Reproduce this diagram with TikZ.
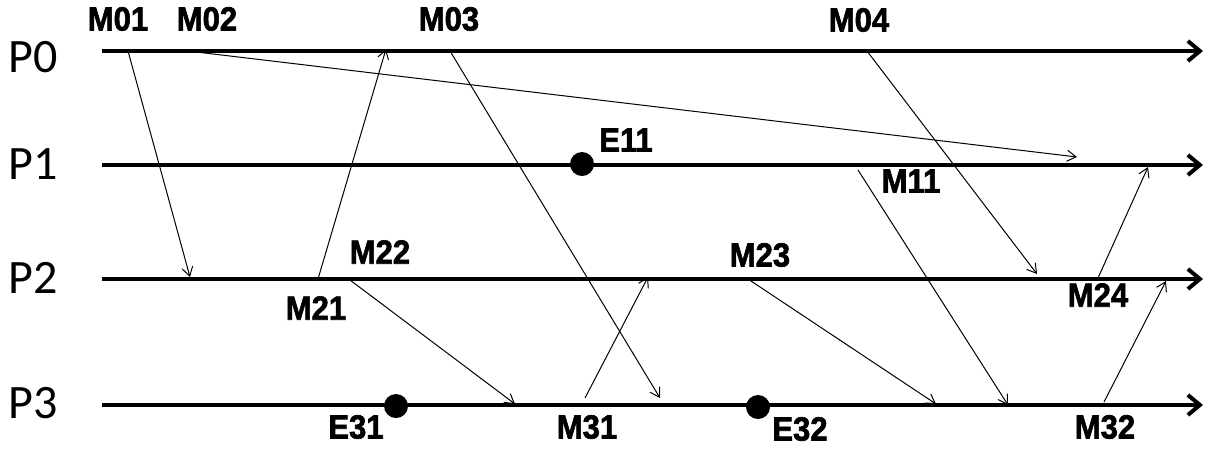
\documentclass[tikz,border=0pt]{standalone}
\usepackage{fontspec}
\setmainfont{Carlito}
\newfontfamily\msgfont{Liberation Sans Bold}[FakeBold=2]
\usetikzlibrary{arrows.meta}

\begin{document}
\begin{tikzpicture}[x=1pt,y=-1pt]
                \tikzset{ProcStyle/.style= {inner sep=0pt, font=\fontsize{48}{48}\selectfont},
                         LabelStyle/.style= {inner sep=0pt, yscale=1.08, font=\msgfont\fontsize{31}{31}\selectfont},
                         LineStyle/.style= {line width=4pt, -{Straight Barb[length=12pt,width=20pt]}},
                         MsgStyle/.style= {line width=1pt, -{Straight Barb[length=9pt,width=11pt]}},
                         EventStyle/.style= {circle, fill=black, inner sep=0pt, minimum size=24pt}}
                \useasboundingbox (0,0) rectangle (1214,448);
                % processes
                \node[ProcStyle] (P0) at (33,57) {P0};
                \node[ProcStyle] (P1) at (33,164) {P1};
                \node[ProcStyle] (P2) at (33,278) {P2};
                \node[ProcStyle] (P3) at (33,403) {P3};
                \coordinate (L0s) at (102,51);  \coordinate (L0e) at (1203,51);
                \coordinate (L1s) at (102,165); \coordinate (L1e) at (1203,165);
                \coordinate (L2s) at (102,279); \coordinate (L2e) at (1203,279);
                \coordinate (L3s) at (102,405); \coordinate (L3e) at (1203,405);
                \draw[LineStyle] (L0s) -- (L0e);
                \draw[LineStyle] (L1s) -- (L1e);
                \draw[LineStyle] (L2s) -- (L2e);
                \draw[LineStyle] (L3s) -- (L3e);
                % events
                \node[EventStyle] (E11) at (582,164) {};
                \node[EventStyle] (E31) at (396,406) {};
                \node[EventStyle] (E32) at (758,407) {};
                % message end points
                \coordinate (M01s) at (128,51);  \coordinate (M01e) at (190,277);
                \coordinate (M02s) at (188,51);  \coordinate (M02e) at (1077,157);
                \coordinate (M03s) at (450,51);  \coordinate (M03e) at (660,398);
                \coordinate (M04s) at (867,51);  \coordinate (M04e) at (1037,274);
                \coordinate (M11s) at (858,170); \coordinate (M11e) at (1008,405);
                \coordinate (M21s) at (318,279); \coordinate (M21e) at (386,49);
                \coordinate (M22s) at (350,280); \coordinate (M22e) at (515,404);
                \coordinate (M23s) at (748,279); \coordinate (M23e) at (936,404);
                \coordinate (M24s) at (1098,278); \coordinate (M24e) at (1148,167);
                \coordinate (M31s) at (585,398); \coordinate (M31e) at (648,277);
                \coordinate (M32s) at (1104,402); \coordinate (M32e) at (1166,281);
                \draw[MsgStyle] (M01s) -- (M01e);
                \draw[MsgStyle] (M02s) -- (M02e);
                \draw[MsgStyle] (M03s) -- (M03e);
                \draw[MsgStyle] (M04s) -- (M04e);
                \draw[MsgStyle] (M11s) -- (M11e);
                \draw[MsgStyle] (M21s) -- (M21e);
                \draw[MsgStyle] (M22s) -- (M22e);
                \draw[MsgStyle] (M23s) -- (M23e);
                \draw[MsgStyle] (M24s) -- (M24e);
                \draw[MsgStyle] (M31s) -- (M31e);
                \draw[MsgStyle] (M32s) -- (M32e);
                % labels
                \node[LabelStyle] (tM01) at (118,19) {M01};
                \node[LabelStyle] (tM02) at (207,19) {M02};
                \node[LabelStyle] (tM03) at (449,19) {M03};
                \node[LabelStyle] (tM04) at (859,20) {M04};
                \node[LabelStyle] (tE11) at (626,140) {E11};
                \node[LabelStyle] (tM11) at (911,181) {M11};
                \node[LabelStyle] (tM22) at (380,252) {M22};
                \node[LabelStyle] (tM21) at (316,308) {M21};
                \node[LabelStyle] (tM23) at (760,255) {M23};
                \node[LabelStyle] (tM24) at (1098,295) {M24};
                \node[LabelStyle] (tE31) at (356,427) {E31};
                \node[LabelStyle] (tM31) at (587,427) {M31};
                \node[LabelStyle] (tE32) at (800,429) {E32};
                \node[LabelStyle] (tM32) at (1105,427) {M32};
\end{tikzpicture}
\end{document}
